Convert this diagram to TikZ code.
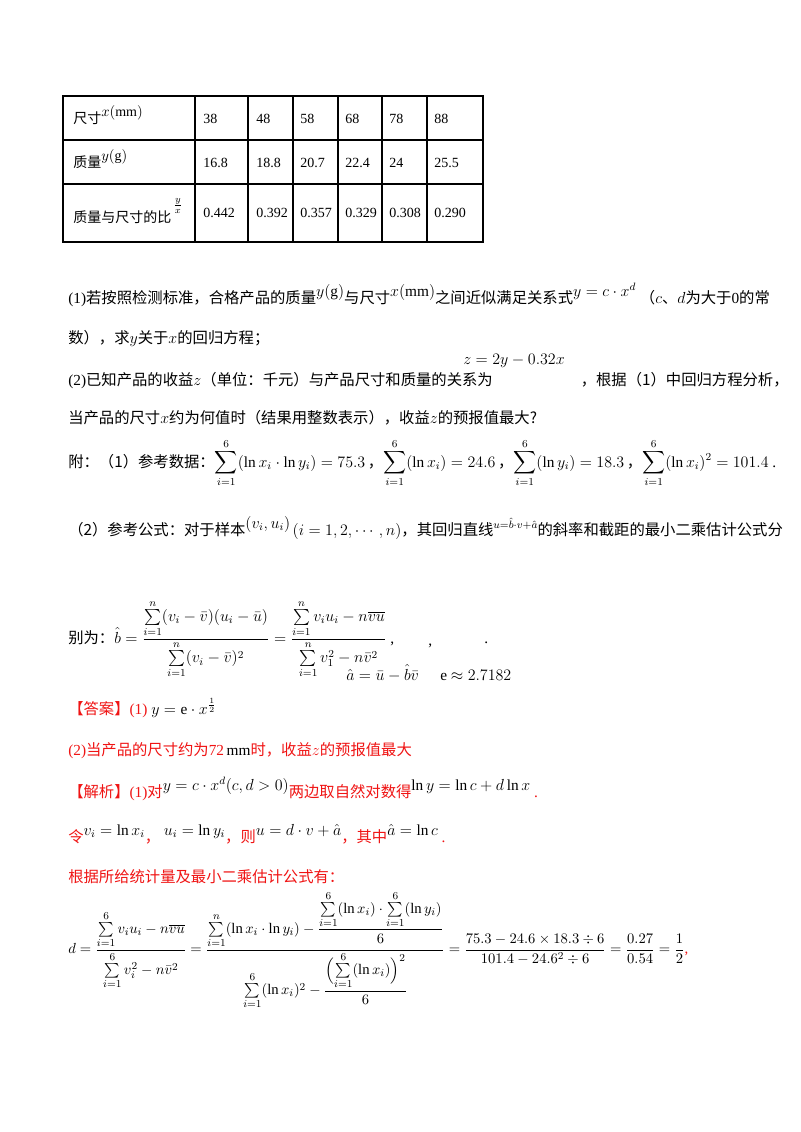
\documentclass[tikz,border=0pt]{standalone}
\usepackage{amsmath}
\usepackage{fontspec}
\setmainfont{Liberation Serif}
\newfontfamily\cjk{Noto Sans CJK SC}
\newcommand{\rz}[1]{\raisebox{5pt}{$#1$}}
\newcommand{\rzs}[1]{\raisebox{5pt}{$\scriptstyle #1$}}
\begin{document}
\begin{tikzpicture}[x=0.75pt,y=-0.75pt,
  txt/.style={anchor=base west,inner sep=0pt,font=\fontsize{11.5}{13}\selectfont},
  red/.style={txt,text=ansred},
  cell/.style={anchor=base west,inner sep=0pt,font=\fontsize{10.5}{12}\selectfont}]
\definecolor{ansred}{RGB}{240,20,20}
\useasboundingbox (0,0) rectangle (800,1132);
\fill[white] (0,0) rectangle (800,1132);
% table
\draw[line width=0.8pt] (63,96) rectangle (483,242);
\foreach \y in {140,184} \draw[line width=0.8pt] (63,\y) -- (483,\y);
\foreach \x in {195,248,293,338,382,427} \draw[line width=0.8pt] (\x,96) -- (\x,242);
\node[cell] (r1) at (73,123) {{\cjk 尺寸}\rz{x(\mathrm{mm})}};
\node[cell] (r2) at (73,167) {{\cjk 质量}\rz{y(\mathrm{g})}};
\node[cell] (r3) at (73,222) {{\cjk 质量与尺寸的比}};
\node[anchor=center,inner sep=0pt,font=\fontsize{10}{11}\selectfont] (fr) at (178,206) {$\frac{y}{x}$};
\foreach \v [count=\i from 0] in {38,48,58,68,78,88}{
  \pgfmathsetmacro\xx{{203,256,300,345,389,434}[\i]}
  \node[cell] (a\i) at (\xx,123) {\v};}
\foreach \v [count=\i from 0] in {16.8,18.8,20.7,22.4,24,25.5}{
  \pgfmathsetmacro\xx{{203,256,300,345,389,434}[\i]}
  \node[cell] (b\i) at (\xx,167) {\v};}
\foreach \v [count=\i from 0] in {0.442,0.392,0.357,0.329,0.308,0.290}{
  \pgfmathsetmacro\xx{{203,256,300,345,389,434}[\i]}
  \node[cell] (c\i) at (\xx,217) {\v};}
% question text
\node[txt] (q1) at (68,303) {(1){\cjk 若按照检测标准，合格产品的质量}\rz{y(\mathrm{g})}{\cjk 与尺寸}\rz{x(\mathrm{mm})}{\cjk 之间近似满足关系式}\rz{y=c\cdot x^{d}}\ {\cjk （}$c${\cjk 、}$d${\cjk 为大于}0{\cjk 的常}};
\node[txt] (q2) at (68,343) {{\cjk 数），求}$y${\cjk 关于}$x${\cjk 的回归方程；}};
\node[txt] (q3) at (68,385) {(2){\cjk 已知产品的收益}$z${\cjk （单位：千元）与产品尺寸和质量的关系为}\hspace{66pt}{\cjk ，根据（1）中回归方程分析，}};
\node[txt] (q3b) at (463,364) {$z=2y-0.32x$};
\node[txt] (q4) at (68,423) {{\cjk 当产品的尺寸}$x${\cjk 约为何值时（结果用整数表示），收益}$z${\cjk 的预报值最大?}};
\node[txt] (q5) at (68,467) {{\cjk 附：（1）参考数据：}$\displaystyle\sum_{i=1}^{6}(\ln x_i\cdot\ln y_i)=75.3$\,{\cjk ，}$\displaystyle\sum_{i=1}^{6}(\ln x_i)=24.6$\,{\cjk ，}$\displaystyle\sum_{i=1}^{6}(\ln y_i)=18.3$\,{\cjk ，}$\displaystyle\sum_{i=1}^{6}(\ln x_i)^2=101.4$\ .};
\node[txt] (q6) at (68,535) {{\cjk （2）参考公式：对于样本}\rz{(v_i,u_i)}\,$(i=1,2,\cdots,n)${\cjk ，其回归直线}\rzs{u=\hat b\cdot v+\hat a}{\cjk 的斜率和截距的最小二乘估计公式分}};
\node[txt] (q7) at (68,643) {{\cjk 别为：}$\displaystyle\hat b=\frac{\sum\limits_{i=1}^{n}(v_i-\bar v)(u_i-\bar u)}{\sum\limits_{i=1}^{n}(v_i-\bar v)^2}=\frac{\sum\limits_{i=1}^{n}v_iu_i-n\overline{vu}}{\sum\limits_{i=1}^{n}v_1^2-n\bar v^2}$\ ,};
\node[txt] (q8) at (346,680) {$\hat a=\bar u-\hat b\bar v$};
\node[txt] (q9) at (428,645) {,};
\node[txt] (q10) at (440,680) {e $\approx 2.7182$};
\node[txt] (q11) at (484,643) {.};
% answer
\node[red] (an1) at (68,714) {{\cjk 【答案】}(1) \textcolor{black}{$y=\mathrm{e}\cdot x^{\frac{1}{2}}$}};
\node[red] (an2) at (68,755) {(2){\cjk 当产品的尺寸约为}72\,\textcolor{black}{mm}{\cjk 时，收益}$z${\cjk 的预报值最大}};
\node[red] (an3) at (68,797) {{\cjk 【解析】}(1){\cjk 对}\textcolor{black}{\rz{y=c\cdot x^d(c,d>0)}}{\cjk 两边取自然对数得}\textcolor{black}{\rz{\ln y=\ln c+d\ln x}}\ .};
\node[red] (an4) at (68,842) {{\cjk 令}\textcolor{black}{\rz{v_i=\ln x_i}}{\cjk ，}\ \textcolor{black}{\rz{u_i=\ln y_i}}{\cjk ，则}\textcolor{black}{\rz{u=d\cdot v+\hat a}}{\cjk ，其中}\textcolor{black}{\rz{\hat a=\ln c}}\ .};
\node[red] (an5) at (68,882) {{\cjk 根据所给统计量及最小二乘估计公式有：}};
\node[anchor=west,inner sep=0pt,font=\fontsize{11}{12}\selectfont] (dd) at (68,950) {$\displaystyle d=\frac{\sum\limits_{i=1}^{6}v_iu_i-n\overline{vu}}{\sum\limits_{i=1}^{6}v_i^2-n\bar v^{2}}
=\frac{\sum\limits_{i=1}^{n}(\ln x_i\cdot\ln y_i)-\dfrac{\sum\limits_{i=1}^{6}(\ln x_i)\cdot\sum\limits_{i=1}^{6}(\ln y_i)}{6}}{\sum\limits_{i=1}^{6}(\ln x_i)^2-\dfrac{\Bigl(\sum\limits_{i=1}^{6}(\ln x_i)\Bigr)^2}{6}}
=\frac{75.3-24.6\times18.3\div6}{101.4-24.6^2\div6}=\frac{0.27}{0.54}=\frac12$\textcolor{ansred}{,}};
\end{tikzpicture}
\end{document}
